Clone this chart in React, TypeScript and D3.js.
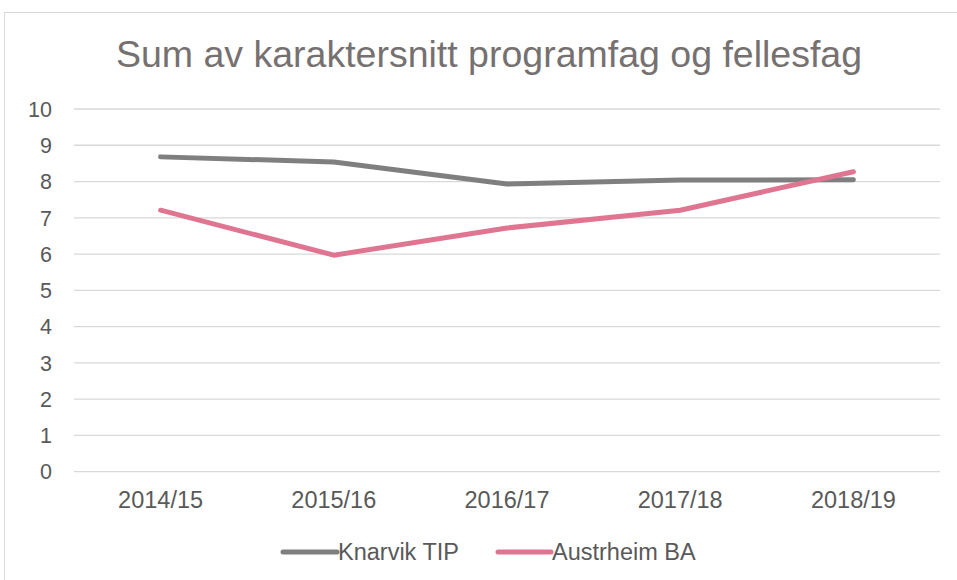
import React from "react";
import * as d3 from "d3";

const categories = ["2014/15", "2015/16", "2016/17", "2017/18", "2018/19"];
const knarvikTIP = [8.68, 8.54, 7.93, 8.04, 8.05];
const austrheimBA = [7.21, 5.97, 6.72, 7.21, 8.27];
const yTicks = [0, 1, 2, 3, 4, 5, 6, 7, 8, 9, 10];
const seriesNames = ["Knarvik TIP", "Austrheim BA"];
const seriesColors = ["#7f7f7f", "#e07592"];

const W = 957;
const H = 580;
const font = "'Liberation Sans', Arial, sans-serif";

export default function App() {
  const x = d3.scaleBand<string>().domain(categories).range([74, 940]);
  const y = d3.scaleLinear().domain([0, 10]).range([471.7, 109]);
  const line = d3
    .line<number>()
    .x((_, i) => (x(categories[i]) as number) + x.bandwidth() / 2)
    .y((d) => y(d));
  const series = [knarvikTIP, austrheimBA];
  const legendItems = [
    { x1: 283, x2: 337, tx: 338 },
    { x1: 498, x2: 551, tx: 552 },
  ];
  return (
    <svg
      width={W}
      height={H}
      style={{ position: "absolute", left: 0, top: 0, background: "#fff" }}
    >
      <rect x={4.5} y={12.5} width={1000} height={1000} fill="#fff" stroke="#d9d9d9" strokeWidth={1} />
      <text
        x={489}
        y={67}
        textAnchor="middle"
        fontFamily={font}
        fontSize={37.5}
        fill="#767171"
      >
        Sum av karaktersnitt programfag og fellesfag
      </text>
      {yTicks.map((t) => (
        <g key={t}>
          <line x1={74} x2={940} y1={y(t)} y2={y(t)} stroke="#d9d9d9" strokeWidth={1.3} />
          <text
            x={52}
            y={y(t)}
            dy="0.36em"
            textAnchor="end"
            fontFamily={font}
            fontSize={21.5}
            fill="#595959"
          >
            {t}
          </text>
        </g>
      ))}
      {categories.map((c) => (
        <text
          key={c}
          x={(x(c) as number) + x.bandwidth() / 2}
          y={507.5}
          textAnchor="middle"
          fontFamily={font}
          fontSize={23.5}
          fill="#595959"
        >
          {c}
        </text>
      ))}
      {series.map((s, i) => (
        <path
          key={i}
          d={line(s) || ""}
          fill="none"
          stroke={seriesColors[i]}
          strokeWidth={5}
          strokeLinecap="round"
          strokeLinejoin="round"
        />
      ))}
      {legendItems.map((l, i) => (
        <g key={i}>
          <line
            x1={l.x1}
            x2={l.x2}
            y1={552}
            y2={552}
            stroke={seriesColors[i]}
            strokeWidth={5}
            strokeLinecap="round"
          />
          <text
            x={l.tx}
            y={560}
            fontFamily={font}
            fontSize={23.5}
            fill="#595959"
          >
            {seriesNames[i]}
          </text>
        </g>
      ))}
    </svg>
  );
}
